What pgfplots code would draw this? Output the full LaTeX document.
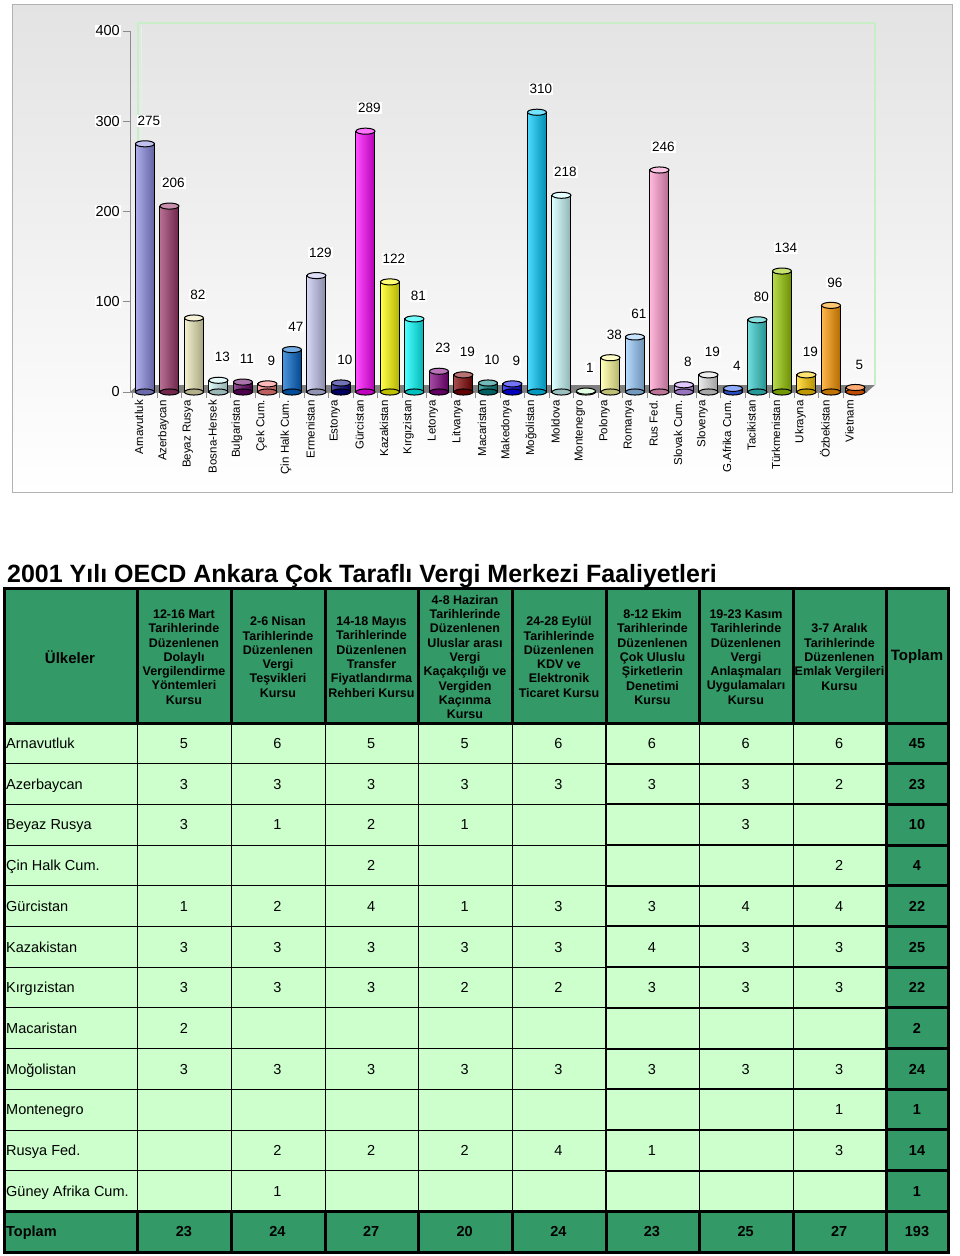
\documentclass[border=0pt]{standalone}
\usepackage{fontspec}
\setmainfont{Liberation Sans}
\usepackage{pgfplots}
\pgfplotsset{compat=1.18}
\definecolor{dkgreen}{HTML}{339966}
\definecolor{ltgreen}{HTML}{CCFFCC}
\definecolor{wallgreen}{HTML}{C8EEC8}
\definecolor{cA}{HTML}{8C8CE6}
\definecolor{cB}{HTML}{993366}
\definecolor{cC}{HTML}{EEEAB8}
\definecolor{cD}{HTML}{CCF4F4}
\definecolor{cE}{HTML}{660066}
\definecolor{cF}{HTML}{FF8080}
\definecolor{cG}{HTML}{0066CC}
\definecolor{cH}{HTML}{C4C4F0}
\definecolor{cI}{HTML}{000080}
\definecolor{cJ}{HTML}{FF00FF}
\definecolor{cK}{HTML}{FFFF00}
\definecolor{cL}{HTML}{00FFFF}
\definecolor{cM}{HTML}{800080}
\definecolor{cN}{HTML}{800000}
\definecolor{cO}{HTML}{008080}
\definecolor{cP}{HTML}{0000FF}
\definecolor{cQ}{HTML}{00CCFF}
\definecolor{cR}{HTML}{CCFFFF}
\definecolor{cS}{HTML}{CCFFCC}
\definecolor{cT}{HTML}{FFFF99}
\definecolor{cU}{HTML}{99CCFF}
\definecolor{cV}{HTML}{FF99CC}
\definecolor{cW}{HTML}{CC99FF}
\definecolor{cX}{HTML}{E0E0E0}
\definecolor{cY}{HTML}{3366FF}
\definecolor{cZ}{HTML}{33CCCC}
\definecolor{ca}{HTML}{99CC00}
\definecolor{cb}{HTML}{FFCC00}
\definecolor{cc}{HTML}{FF9900}
\definecolor{cd}{HTML}{FF6600}
\newcommand\cyl[3]{%
 \addplot[only marks, mark=*, mark size=9.5pt, mark options={yscale=0.32, fill=#3!75!black, draw=black, line width=1pt}] coordinates {(#1,0)};
 \addplot[ybar, bar shift=0pt, bar width=19pt, draw=black, line width=1pt, left color=#3!70!white, middle color=#3, right color=#3!70!black] coordinates {(#1,#2)};
 \addplot[only marks, mark=*, mark size=9.5pt, mark options={yscale=0.32, fill=#3!55!white, draw=black, line width=1pt},
   nodes near coords, every node near coord/.append style={anchor=center, yshift=23pt, xshift=4pt, fill=white, inner sep=1pt, text=black, font=\fontsize{13.5}{14}\selectfont}] coordinates {(#1,#2)};
}
\newcommand\datafont{\fontsize{14.5}{16}\selectfont}
\newcommand\trow[4]{%
 \node[anchor=base west, font=\datafont, inner sep=0pt] at (6, {723+(#1-0.5)*40.69+5.2}) {#2};
 \foreach \v [count=\c] in {#3} {\node[anchor=base, font=\datafont, inner sep=0pt] at ({137+(\c-0.5)*93.625}, {723+(#1-0.5)*40.69+5.2}) {\v};}
 \node[anchor=base, font=\datafont\bfseries, inner sep=0pt] at (917, {723+(#1-0.5)*40.69+5.2}) {#4};
}
\begin{document}
\begin{tikzpicture}
\begin{scope}[x=1pt, y=-1pt]
\path[use as bounding box] (0,0) rectangle (960,1256);
% chart panel
\shade[top color=black!11, bottom color=white, draw=black!30, line width=1pt] (12,4) rectangle (952,492);
\draw[wallgreen, line width=1.6pt] (138,385) -- (138,23) -- (875,23) -- (875,385);
\draw[wallgreen!60!white, line width=1pt] (141,385) -- (141,26);
\fill[black!50] (130,392) -- (867,392) -- (875,385) -- (138,385) -- cycle;
\end{scope}
\begin{axis}[
  at={(130pt,-392pt)}, anchor=south west, scale only axis,
  width=737pt, height=361pt,
  xmin=-0.61, xmax=29.47, ymin=0, ymax=400,
  clip=false,
  axis lines*=left,
  axis line style={black!45, line width=0.8pt},
  ytick={0,100,200,300,400},
  xtick={0,...,29},
  minor xtick={-0.5,0.5,...,29.5},
  tick align=outside,
  major tick length=7pt,
  minor tick length=6pt,
  major x tick style={draw=none},
  minor x tick style={draw=black!45, line width=0.8pt},
  y tick style={draw=black!45, line width=0.8pt},
  /pgf/number format/assume math mode=true,
  yticklabel style={fill=white, inner sep=1pt, font=\fontsize{14.5}{15}\selectfont, xshift=-2pt},
  xticklabel style={xshift=-6pt, rotate=90, anchor=east, font=\fontsize{11.5}{12}\selectfont, inner sep=1pt, yshift=0pt},
  xticklabels={Arnavutluk, Azerbaycan, Beyaz Rusya, Bosna-Hersek, Bulgaristan, Çek Cum., Çin Halk Cum., Ermenistan, Estonya, Gürcistan, Kazakistan, Kırgızistan, Letonya, Litvanya, Macaristan, Makedonya, Moğolistan, Moldova, Montenegro, Polonya, Romanya, Rus Fed., Slovak Cum., Slovenya, G.Afrika Cum., Tacikistan, Türkmenistan, Ukrayna, Özbekistan, Vietnam},
]
\cyl{0}{275}{cA}
\cyl{1}{206}{cB}
\cyl{2}{82}{cC}
\cyl{3}{13}{cD}
\cyl{4}{11}{cE}
\cyl{5}{9}{cF}
\cyl{6}{47}{cG}
\cyl{7}{129}{cH}
\cyl{8}{10}{cI}
\cyl{9}{289}{cJ}
\cyl{10}{122}{cK}
\cyl{11}{81}{cL}
\cyl{12}{23}{cM}
\cyl{13}{19}{cN}
\cyl{14}{10}{cO}
\cyl{15}{9}{cP}
\cyl{16}{310}{cQ}
\cyl{17}{218}{cR}
\cyl{18}{1}{cS}
\cyl{19}{38}{cT}
\cyl{20}{61}{cU}
\cyl{21}{246}{cV}
\cyl{22}{8}{cW}
\cyl{23}{19}{cX}
\cyl{24}{4}{cY}
\cyl{25}{80}{cZ}
\cyl{26}{134}{ca}
\cyl{27}{19}{cb}
\cyl{28}{96}{cc}
\cyl{29}{5}{cd}
\end{axis}
\begin{scope}[x=1pt, y=-1pt]
\node[anchor=base west, font=\fontsize{25}{28}\selectfont\bfseries, inner sep=0pt] at (7,582) {2001 Yılı OECD Ankara Çok Taraflı Vergi Merkezi Faaliyetleri};
% fills
\fill[ltgreen] (4,723) rectangle (886,1211);
\fill[dkgreen] (4,588) rectangle (948,723);
\fill[dkgreen] (886,723) rectangle (948,1252);
\fill[dkgreen] (4,1211) rectangle (948,1252);
% thin grid
\foreach \xx in {137,231,325,418,512,699,793} \draw[line width=0.8pt] (\xx,723) -- (\xx,1211);
\foreach \k in {1,...,11} \draw[line width=0.8pt] (4,{723+\k*40.69}) -- (606,{723+\k*40.69});
\foreach \k in {1,...,11} \draw[line width=2pt] (606,{723+\k*40.69}) -- (886,{723+\k*40.69});
\draw[line width=2pt] (606,723) -- (606,1211);
% thick borders
\foreach \xx in {137,231,325,418,512,606,699,793,886} \draw[line width=3pt] (\xx,588) -- (\xx,723);
\foreach \xx in {137,231,325,418,512,606,699,793} \draw[line width=3pt] (\xx,1211) -- (\xx,1252);
\draw[line width=3pt] (886,588) -- (886,1252);
\foreach \k in {1,...,12} \draw[line width=3pt] (886,{723+\k*40.69}) -- (948,{723+\k*40.69});
\draw[line width=3pt] (4,723) -- (948,723);
\draw[line width=3pt] (4,1211) -- (948,1211);
\draw[line width=3pt] (4,588) rectangle (948,1252);
% header text
\begin{scope}[every node/.style={font=\fontsize{12.5}{14.3}\selectfont\bfseries, align=center, inner sep=0pt}]
\node at (70,657) {\fontsize{15}{17}\selectfont Ülkeler};
\node at (917,657) {\fontsize{15}{17}\selectfont Toplam};
\node at (184,657) {12-16 Mart\\Tarihlerinde\\Düzenlenen\\Dolaylı\\Vergilendirme\\Yöntemleri\\Kursu};
\node at (278,657) {2-6 Nisan\\Tarihlerinde\\Düzenlenen\\Vergi\\Teşvikleri\\Kursu};
\node at (371.5,657) {14-18 Mayıs\\Tarihlerinde\\Düzenlenen\\Transfer\\Fiyatlandırma\\Rehberi Kursu};
\node at (465,657) {4-8 Haziran\\Tarihlerinde\\Düzenlenen\\Uluslar arası\\Vergi\\Kaçakçılığı ve\\Vergiden\\Kaçınma\\Kursu};
\node at (559,657) {24-28 Eylül\\Tarihlerinde\\Düzenlenen\\KDV ve\\Elektronik\\Ticaret Kursu};
\node at (652.5,657) {8-12 Ekim\\Tarihlerinde\\Düzenlenen\\Çok Uluslu\\Şirketlerin\\Denetimi\\Kursu};
\node at (746,657) {19-23 Kasım\\Tarihlerinde\\Düzenlenen\\Vergi\\Anlaşmaları\\Uygulamaları\\Kursu};
\node at (839.5,657) {3-7 Aralık\\Tarihlerinde\\Düzenlenen\\Emlak Vergileri\\Kursu};
\end{scope}
% rows
\trow{1}{Arnavutluk}{5,6,5,5,6,6,6,6}{45}
\trow{2}{Azerbaycan}{3,3,3,3,3,3,3,2}{23}
\trow{3}{Beyaz Rusya}{3,1,2,1,{},{},3,{}}{10}
\trow{4}{Çin Halk Cum.}{{},{},2,{},{},{},{},2}{4}
\trow{5}{Gürcistan}{1,2,4,1,3,3,4,4}{22}
\trow{6}{Kazakistan}{3,3,3,3,3,4,3,3}{25}
\trow{7}{Kırgızistan}{3,3,3,2,2,3,3,3}{22}
\trow{8}{Macaristan}{2,{},{},{},{},{},{},{}}{2}
\trow{9}{Moğolistan}{3,3,3,3,3,3,3,3}{24}
\trow{10}{Montenegro}{{},{},{},{},{},{},{},1}{1}
\trow{11}{Rusya Fed.}{{},2,2,2,4,1,{},3}{14}
\trow{12}{Güney Afrika Cum.}{{},1,{},{},{},{},{},{}}{1}
\trow{13}{\bfseries Toplam}{\bfseries 23,\bfseries 24,\bfseries 27,\bfseries 20,\bfseries 24,\bfseries 23,\bfseries 25,\bfseries 27}{193}
\end{scope}
\end{tikzpicture}
\end{document}
